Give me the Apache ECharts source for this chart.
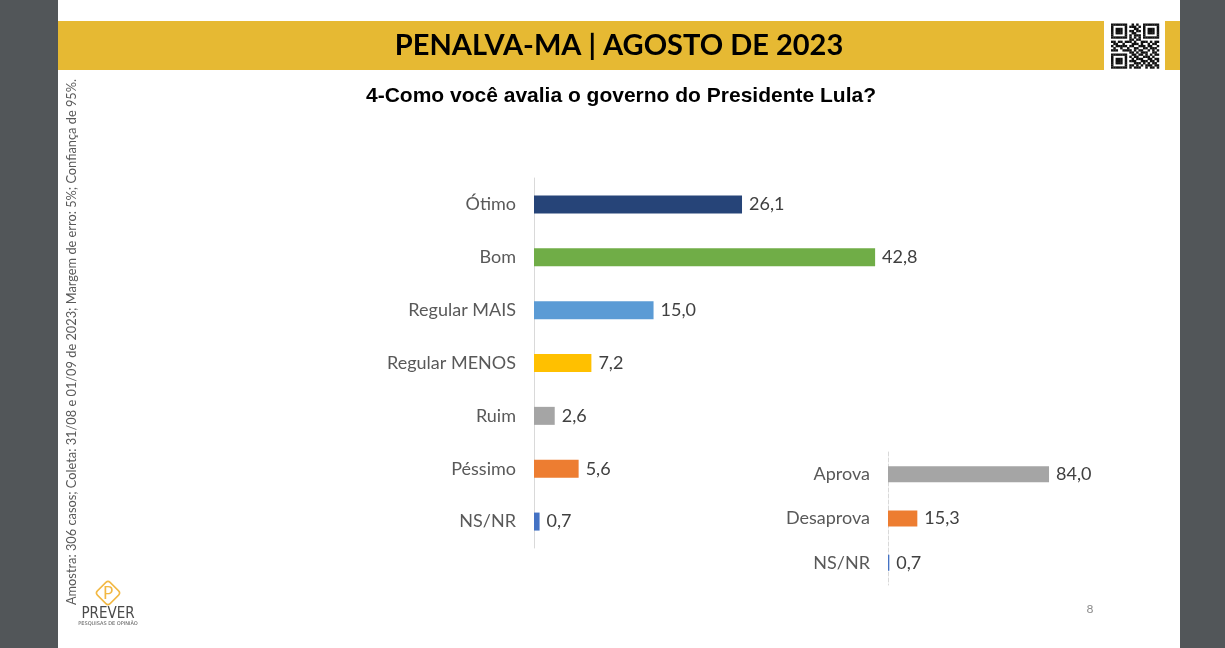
<!DOCTYPE html>
<html><head><meta charset="utf-8">
<script src="https://cdn.jsdelivr.net/npm/echarts/dist/echarts.min.js"></script>
<style>html,body{margin:0;padding:0;background:#525659}#c{width:1225px;height:648px}</style>
</head><body><div id="c"></div>
<script>
const categories = ['Ótimo','Bom','Regular MAIS','Regular MENOS','Ruim','Péssimo','NS/NR'];
const values = [26.1, 42.8, 15.0, 7.2, 2.6, 5.6, 0.7];
const barColors = ['#264478','#70AD47','#5B9BD5','#FFC000','#A5A5A5','#ED7D31','#4472C4'];
const approvalCategories = ['Aprova','Desaprova','NS/NR'];
const approvalValues = [84.0, 15.3, 0.7];
const approvalColors = ['#A5A5A5','#ED7D31','#4472C4'];

const fmt = v => v.toFixed(1).replace('.', ',');

// decorative QR pattern
const qrRows = [
"111111100101001111111",
"100000101110101000001",
"101110100011001011101",
"101110101101101011101",
"101110100110001011101",
"100000101011101000001",
"111111101010101111111",
"000000001101100000000",
"110110111010011101011",
"011001000111010010110",
"101111101100111011001",
"010010010011001101110",
"111001111010110010101",
"000000001101011100110",
"111111100110110101011",
"100000101011001110100",
"101110100101110011011",
"101110101110011101101",
"101110100011101010110",
"100000101101010111011",
"111111101011100101101"
];
const qr = [];
const mw = 48/21, mh = 45/21;
qrRows.forEach((row, r) => {
  for (let c = 0; c < row.length; c++) {
    if (row[c] === '1') qr.push({type:'rect', shape:{x:1111 + c*mw, y:23.5 + r*mh, width:mw+0.2, height:mh+0.2}, style:{fill:'#111'}});
  }
});

const chart = echarts.init(document.getElementById('c'));
chart.setOption({
  backgroundColor: '#525659',
  animation: false,
  graphic: [
    {type:'rect', z:-10, shape:{x:58, y:0, width:1122, height:648}, style:{fill:'#ffffff'}},
    {type:'rect', z:-9, shape:{x:58, y:21, width:1046, height:49}, style:{fill:'#E6B933'}},
    {type:'rect', z:-9, shape:{x:1165, y:21, width:15, height:49}, style:{fill:'#E6B933'}},
    {type:'group', children: qr},
    {type:'text', x:619, y:46, style:{text:'PENALVA-MA | AGOSTO DE 2023', fill:'#000', font:'bold 29px Lato', textAlign:'center', textVerticalAlign:'middle'}},
    {type:'text', x:621, y:96, style:{text:'4-Como você avalia o governo do Presidente Lula?', fill:'#000', font:'bold 21px "Liberation Sans"', textAlign:'center', textVerticalAlign:'middle'}},
    {type:'text', x:72, y:342, rotation:Math.PI/2, style:{text:'Amostra: 306 casos; Coleta: 31/08 e 01/09 de 2023; Margem de erro: 5%; Confiança de 95%.', fill:'#595959', font:'12.8px Lato', textAlign:'center', textVerticalAlign:'middle'}},
    {type:'rect', x:108, y:593, rotation:Math.PI/4, shape:{x:-9, y:-9, width:18, height:18, r:3}, style:{fill:'none', stroke:'#F2B843', lineWidth:1.5}},
    {type:'text', x:108, y:594, style:{text:'P', fill:'#F2B843', font:'17px Lato', textAlign:'center', textVerticalAlign:'middle'}},
    {type:'text', x:108, y:614, style:{text:'PREVER', fill:'#4a4a4a', font:'15px "DejaVu Sans Condensed"', textAlign:'center', textVerticalAlign:'middle'}},
    {type:'text', x:108, y:624, style:{text:'PESQUISAS DE OPINIÃO', fill:'#555', font:'5px "DejaVu Sans"', textAlign:'center', textVerticalAlign:'middle'}},
    {type:'text', x:1090, y:609, style:{text:'8', fill:'#8c8c8c', font:'12px Lato', textAlign:'center', textVerticalAlign:'middle'}}
  ],
  grid: [
    {left:534, top:178, width:398.5, height:370, containLabel:false, outerBoundsMode:'none'},
    {left:888, top:452, width:191.7, height:133, containLabel:false, outerBoundsMode:'none'}
  ],
  xAxis: [
    {gridIndex:0, type:'value', min:0, max:50, show:false},
    {gridIndex:1, type:'value', min:0, max:100, show:false}
  ],
  yAxis: [
    {gridIndex:0, type:'category', data:categories, inverse:true,
     axisLine:{show:true, lineStyle:{color:'#d9d9d9', width:1}}, axisTick:{show:false},
     axisLabel:{margin:18, fontSize:18, color:'#595959', fontFamily:'Lato'}},
    {gridIndex:1, type:'category', data:approvalCategories, inverse:true,
     axisLine:{show:true, lineStyle:{color:'#d9d9d9', width:1, type:'dashed'}}, axisTick:{show:false},
     axisLabel:{margin:18, fontSize:18, color:'#595959', fontFamily:'Lato'}}
  ],
  series: [
    {type:'bar', xAxisIndex:0, yAxisIndex:0, barWidth:18,
     data: values.map((v,i) => ({value:v, itemStyle:{color:barColors[i]}})),
     label:{show:true, position:'right', distance:7, fontSize:18, color:'#404040', fontFamily:'Lato', formatter:p => fmt(p.value)}},
    {type:'bar', xAxisIndex:1, yAxisIndex:1, barWidth:16,
     data: approvalValues.map((v,i) => ({value:v, itemStyle:{color:approvalColors[i]}})),
     label:{show:true, position:'right', distance:7, fontSize:18, color:'#404040', fontFamily:'Lato', formatter:p => fmt(p.value)}}
  ]
});
</script>
</body></html>
